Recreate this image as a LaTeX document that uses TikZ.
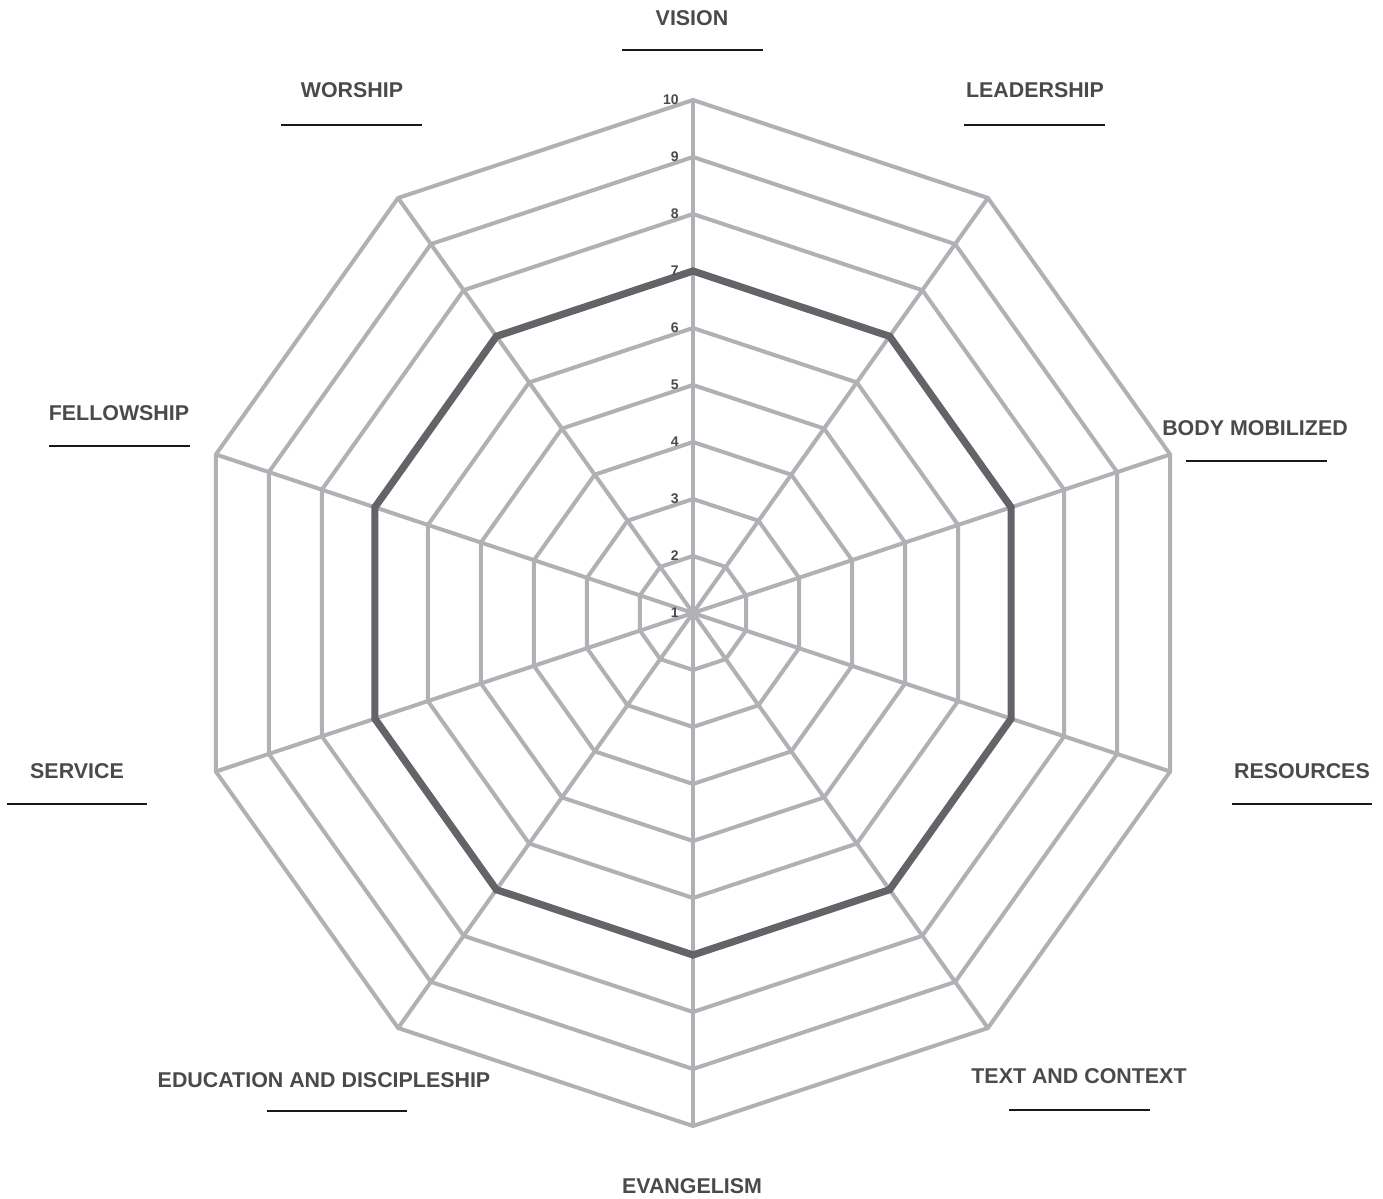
\documentclass[tikz,border=0pt]{standalone}
\usepackage{fontspec}
\setmainfont{Liberation Sans}
\definecolor{gridc}{HTML}{B1B1B5}
\definecolor{darkc}{HTML}{636368}
\definecolor{txtc}{HTML}{4A4A4C}
\tikzset{
  gridline/.style={draw=gridc, line width=2pt},
  scoreline/.style={draw=darkc, line width=3.6pt},
  lab/.style={font=\fontsize{10.7}{12}\selectfont\bfseries, text=txtc, inner sep=0pt},
  num/.style={font=\fontsize{7}{8}\selectfont\bfseries, text=txtc, inner sep=0pt, anchor=east},
  uline/.style={draw=black!90, line width=1pt}
}
\begin{document}
\begin{tikzpicture}[x=0.5pt,y=-0.5pt]
\useasboundingbox (0,0) rectangle (1383,1199);
\coordinate (C) at (693,613);
% grid polygons
\foreach \k in {2,...,10} {
  \draw[gridline] plot[samples at={0,...,9}] ({693+0.978*(\k-1)*57*cos(90-36*\x)},{613-(\k-1)*57*sin(90-36*\x)}) -- cycle;
}
% axes
\foreach \i in {0,...,9} {
  \coordinate (v\i) at ({693+0.978*513*cos(90-36*\i)},{613-513*sin(90-36*\i)});
  \draw[gridline] (C) -- (v\i);
}
% score polygon (level 7)
\draw[scoreline] plot[samples at={0,...,9}] ({693+0.978*342*cos(90-36*\x)},{613-342*sin(90-36*\x)}) -- cycle;
% numbers
\foreach \k in {1,...,10} {
  \node[num] (n\k) at (679,{613-(\k-1)*57}) {\k};
}
% labels
\node[lab] (vision) at (692,18) {VISION};
\draw[uline] (622,50) -- (763,50);
\node[lab] (worship) at (352,90) {WORSHIP};
\draw[uline] (281,125) -- (422,125);
\node[lab] (leadership) at (1035,90) {LEADERSHIP};
\draw[uline] (964,125) -- (1105,125);
\node[lab] (fellowship) at (119,413) {FELLOWSHIP};
\draw[uline] (49,446) -- (190,446);
\node[lab] (body) at (1255,428) {BODY MOBILIZED};
\draw[uline] (1186,461) -- (1327,461);
\node[lab] (service) at (77,771) {SERVICE};
\draw[uline] (7,804) -- (147,804);
\node[lab] (resources) at (1302,771) {RESOURCES};
\draw[uline] (1232,804) -- (1372,804);
\node[lab] (education) at (324,1080) {EDUCATION AND DISCIPLESHIP};
\draw[uline] (267,1111) -- (407,1111);
\node[lab] (text) at (1079,1076) {TEXT AND CONTEXT};
\draw[uline] (1009,1110) -- (1150,1110);
\node[lab] (evangelism) at (692,1186) {EVANGELISM};
\end{tikzpicture}
\end{document}
